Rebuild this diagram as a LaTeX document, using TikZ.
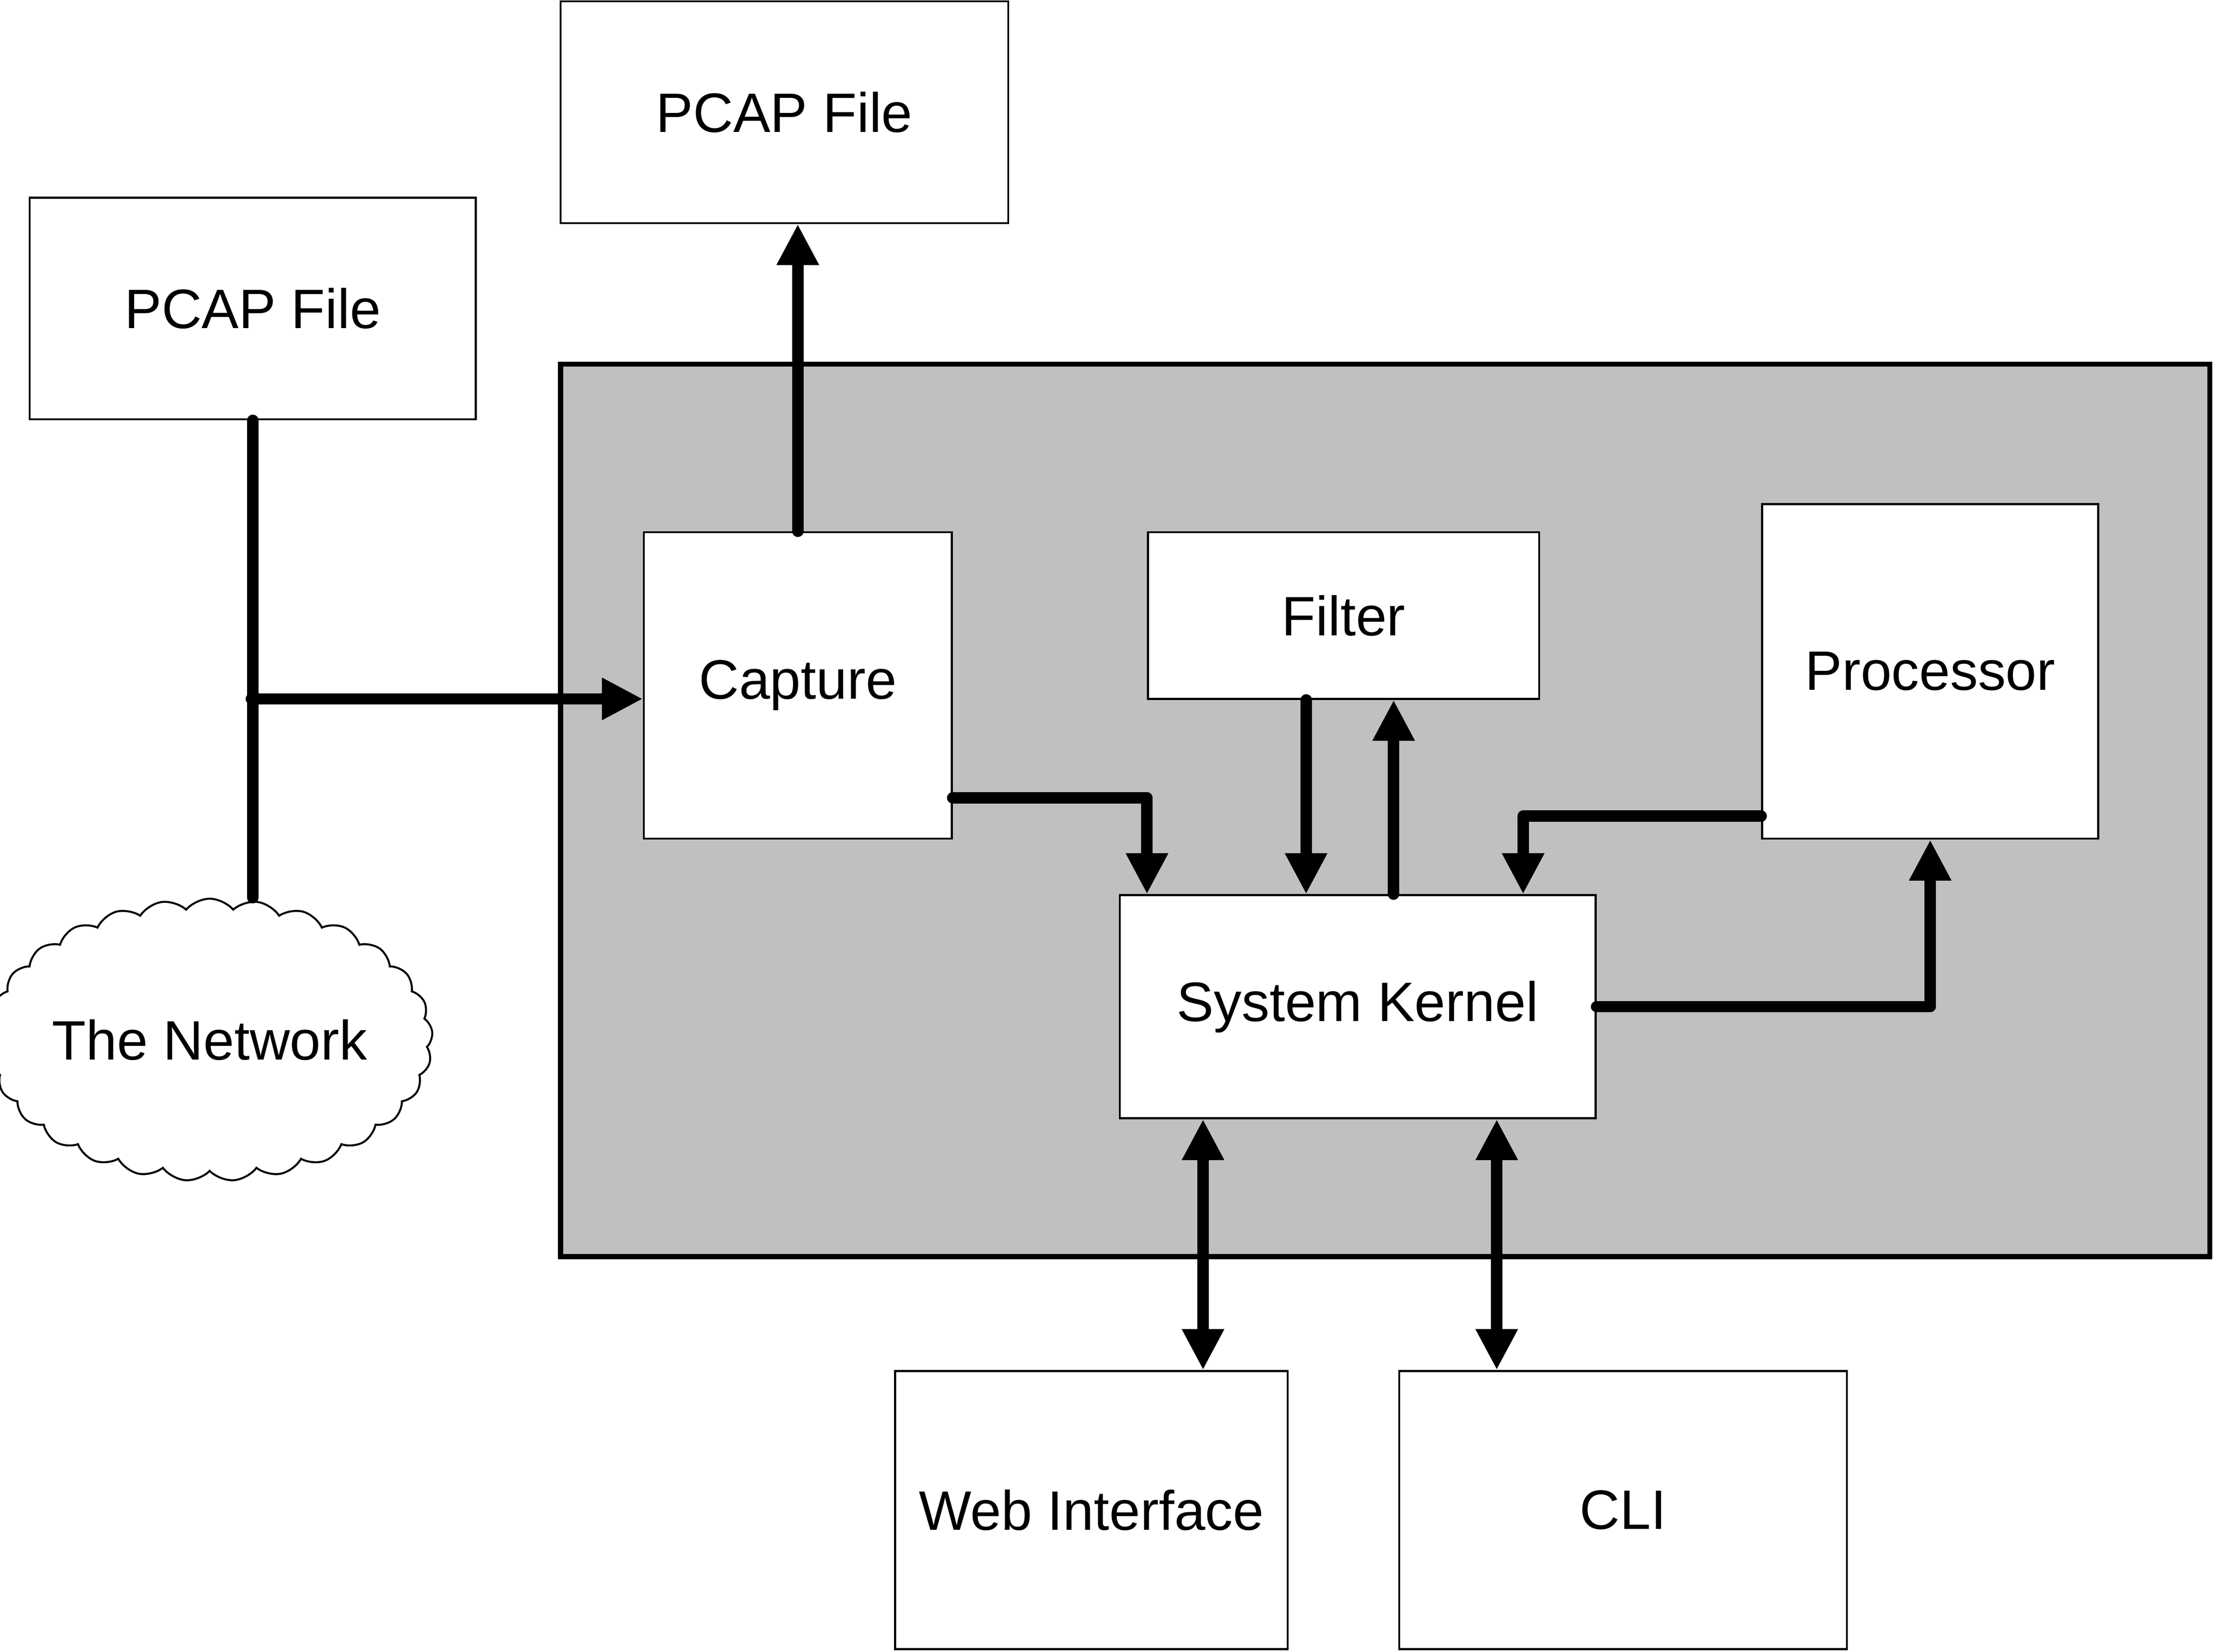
\documentclass[tikz,border=0pt]{standalone}
\usepackage{fontspec}
\setmainfont{Liberation Sans}
\usepackage{tikz}
\usetikzlibrary{arrows.meta,shapes.symbols}
\definecolor{kernelgray}{RGB}{192,192,192}
\tikzset{
    box/.style={draw, fill=white, line width=0.4pt, inner sep=0pt, font=\fontsize{11.2}{13}\selectfont},
    link/.style={line width=2.3pt, line cap=round, line join=round},
    tip/.style={-{Triangle[length=2.9mm, width=2.8mm]}},
    tip both/.style={{Triangle[length=2.9mm, width=2.8mm]}-{Triangle[length=2.9mm, width=2.8mm]}},
}
\begin{document}
\begin{tikzpicture}
\useasboundingbox (0,0) rectangle (15.68,-11.70);
\node[draw, fill=kernelgray, line width=1pt, minimum width=11.68cm, minimum height=6.32cm, inner sep=0pt] (system) at (9.81,-5.74) {};

\node[box, minimum width=3.17cm, minimum height=1.57cm] (pcapout) at (5.555,-0.795) {PCAP File};
\node[box, minimum width=3.16cm, minimum height=1.57cm] (pcapin) at (1.79,-2.185) {PCAP File};
\node[box, minimum width=2.18cm, minimum height=2.17cm] (capture) at (5.65,-4.855) {Capture};
\node[box, minimum width=2.77cm, minimum height=1.18cm] (filter) at (9.515,-4.36) {Filter};
\node[box, minimum width=2.38cm, minimum height=2.37cm] (processor) at (13.67,-4.755) {Processor};
\node[box, minimum width=3.37cm, minimum height=1.58cm] (kernel) at (9.615,-7.13) {System Kernel};
\node[box, minimum width=2.78cm, minimum height=1.97cm] (web) at (7.73,-10.695) {Web Interface};
\node[box, minimum width=3.17cm, minimum height=1.97cm] (cli) at (11.495,-10.695) {CLI};
\node[box, cloud, cloud puffs=29, cloud puff arc=100, cloud ignores aspect, minimum width=2.8cm, minimum height=2.0cm] (net) at (1.485,-7.365) {The Network};

\coordinate (split) at (1.78,-4.95);
\draw[link] (pcapin.south) -- (pcapin.south |- net.north);
\draw[link, tip] (split) -- (split -| capture.west);
\draw[link, tip] (capture.north) -- (capture.north |- pcapout.south);
\draw[link, tip] ([yshift=-7.95mm]capture.east) -| ([xshift=2mm]kernel.north west);
\draw[link, tip] ([xshift=-2.65mm]filter.south) -- ([xshift=-2.65mm]filter.south |- kernel.north);
\draw[link, tip] ([xshift=3.55mm]filter.south |- kernel.north) -- ([xshift=3.55mm]filter.south);
\draw[link, tip] ([yshift=-10.25mm]processor.west) -| ([xshift=-5.2mm]kernel.north east);
\draw[link, tip] (kernel.east) -| (processor.south);
\draw[link, tip both] ([xshift=7.9mm]web.north |- kernel.south) -- ([xshift=7.9mm]web.north);
\draw[link, tip both] ([xshift=-8.95mm]cli.north |- kernel.south) -- ([xshift=-8.95mm]cli.north);
\end{tikzpicture}
\end{document}
